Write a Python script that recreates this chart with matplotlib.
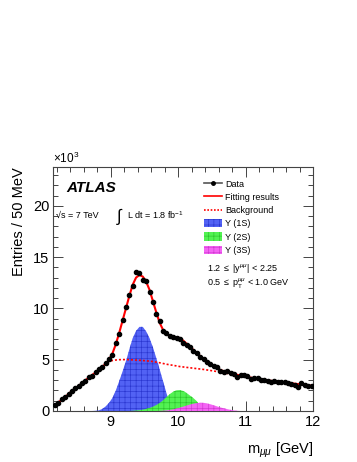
import numpy as np
import matplotlib
matplotlib.use("Agg")
import matplotlib.pyplot as plt
from matplotlib.lines import Line2D
from matplotlib.patches import Patch

plt.rcParams['font.family'] = ['Liberation Sans', 'DejaVu Sans']
plt.rcParams['mathtext.fontset'] = 'custom'
plt.rcParams['mathtext.rm'] = 'Liberation Sans'
plt.rcParams['mathtext.it'] = 'Liberation Sans:italic'
plt.rcParams['mathtext.fallback'] = 'stixsans'
plt.rcParams['hatch.linewidth'] = 0.45

# ---- data (in units of 10^3 entries / 50 MeV) ----
mass = [8.175 + 0.05 * i for i in range(77)]

data = [0.55, 0.8, 1.15, 1.4, 1.7, 1.9, 2.25, 2.45, 2.75, 2.95,
        3.3, 3.45, 3.8, 4.1, 4.25, 4.7, 5.1, 5.5, 6.6, 7.5,
        8.9, 10.1, 11.3, 12.2, 13.5, 13.4, 12.8, 12.7, 11.6, 10.6,
        9.5, 8.8, 7.8, 7.6, 7.3, 7.25, 7.1, 7.0, 6.65, 6.4,
        6.2, 5.85, 5.7, 5.3, 5.1, 4.8, 4.62, 4.4, 4.25, 3.9,
        3.8, 3.9, 3.72, 3.6, 3.35, 3.55, 3.5, 3.45, 3.15, 3.25,
        3.2, 3.05, 3.0, 2.95, 2.85, 2.95, 2.8, 2.85, 2.8, 2.7,
        2.6, 2.55, 2.37, 2.75, 2.55, 2.45, 2.45]

fit_total = [0.55, 0.85, 1.1, 1.35, 1.65, 1.95, 2.2, 2.45, 2.7, 3.0,
             3.25, 3.5, 3.75, 4.05, 4.3, 4.6, 5.0, 5.6, 6.5, 7.6,
             8.8, 10.0, 11.2, 12.3, 13.0, 13.25, 13.1, 12.6, 11.8, 10.7,
             9.6, 8.6, 7.9, 7.5, 7.3, 7.2, 7.2, 7.1, 6.85, 6.55,
             6.25, 5.95, 5.65, 5.35, 5.05, 4.8, 4.55, 4.33, 4.15, 4.0,
             3.88, 3.77, 3.68, 3.6, 3.52, 3.45, 3.38, 3.31, 3.25, 3.19,
             3.13, 3.08, 3.03, 2.98, 2.94, 2.9, 2.86, 2.82, 2.78, 2.74,
             2.7, 2.66, 2.62, 2.58, 2.54, 2.5, 2.46]

background = [0.53, 0.83, 1.08, 1.33, 1.63, 1.93, 2.18, 2.43, 2.68, 2.97,
              3.22, 3.47, 3.75, 4.1, 4.4, 4.65, 4.83, 4.92, 4.97, 5.0,
              5.01, 5.01, 5.0, 4.98, 4.96, 4.94, 4.92, 4.89, 4.86, 4.82,
              4.76, 4.7, 4.63, 4.56, 4.5, 4.45, 4.39, 4.33, 4.29, 4.25,
              4.21, 4.17, 4.13, 4.09, 4.05, 4.0, 3.95, 3.9, 3.84, 3.78,
              3.72, 3.66, 3.6, 3.54, 3.48, 3.42, 3.36, 3.29, 3.23, 3.17,
              3.11, 3.06, 3.01, 2.96, 2.92, 2.88, 2.84, 2.8, 2.76, 2.72,
              2.68, 2.64, 2.6, 2.56, 2.52, 2.48, 2.44]

ups1s = [0, 0, 0, 0, 0, 0, 0, 0, 0, 0,
         0, 0, 0.02, 0.06, 0.2, 0.45, 0.8, 1.27, 2.0, 2.9,
         3.85, 4.84, 6.0, 7.1, 7.8, 8.2, 8.2, 7.75, 7.1, 6.2,
         5.16, 4.05, 2.9, 1.75, 0.75, 0.1, 0, 0, 0, 0,
         0, 0, 0, 0, 0, 0, 0, 0, 0, 0,
         0, 0, 0, 0, 0, 0, 0, 0, 0, 0,
         0, 0, 0, 0, 0, 0, 0, 0, 0, 0,
         0, 0, 0, 0, 0, 0, 0]

ups2s = [0, 0, 0, 0, 0, 0, 0, 0, 0, 0,
         0, 0, 0, 0, 0, 0, 0, 0, 0, 0,
         0, 0, 0, 0.02, 0.05, 0.08, 0.13, 0.2, 0.3, 0.42,
         0.58, 0.78, 1.05, 1.35, 1.65, 1.88, 2.02, 2.04, 1.95, 1.75,
         1.5, 1.25, 0.95, 0.4, 0, 0, 0, 0, 0, 0,
         0, 0, 0, 0, 0, 0, 0, 0, 0, 0,
         0, 0, 0, 0, 0, 0, 0, 0, 0, 0,
         0, 0, 0, 0, 0, 0, 0]

ups3s = [0, 0, 0, 0, 0, 0, 0, 0, 0, 0,
         0, 0, 0, 0, 0, 0, 0, 0, 0, 0,
         0, 0, 0, 0, 0, 0, 0, 0, 0, 0,
         0, 0.01, 0.03, 0.06, 0.1, 0.16, 0.24, 0.33, 0.43, 0.53,
         0.63, 0.71, 0.77, 0.8, 0.79, 0.74, 0.66, 0.56, 0.45, 0.35,
         0.26, 0.18, 0.11, 0.06, 0.02, 0, 0, 0, 0, 0,
         0, 0, 0, 0, 0, 0, 0, 0, 0, 0,
         0, 0, 0, 0, 0, 0, 0]

data_err = [0.08] * 77

x = np.array(mass)

fig = plt.figure(figsize=(3.57, 4.62), dpi=100)
ax = fig.add_axes([0.1494, 0.1104, 0.7282, 0.5286])

blue_face, blue_edge = '#5262f4', '#2a36d0'
green_face, green_edge = '#52f252', '#2cc42c'
mag_face, mag_edge = '#f464f4', '#d038d0'

ax.fill_between(x, 0, ups1s, facecolor=blue_face, edgecolor=blue_edge,
                hatch='+++', linewidth=0, zorder=2)
ax.fill_between(x, 0, ups2s, facecolor=green_face, edgecolor=green_edge,
                hatch='+++', linewidth=0, zorder=3)
ax.fill_between(x, 0, ups3s, facecolor=mag_face, edgecolor=mag_edge,
                hatch='+++', linewidth=0, zorder=4)

ax.plot(x, background, color='red', linestyle=(0, (1.2, 1.2)), lw=1.2, zorder=5)
ax.plot(x, fit_total, color='red', lw=1.5, zorder=6)

ax.errorbar(x, data, yerr=data_err, xerr=0.025, fmt='o', color='black',
            markersize=3.0, elinewidth=0.6, capsize=0, zorder=7)

ax.set_xlim(8.15, 12.0)
ax.set_ylim(0, 23.8)
ax.set_xticks([9, 10, 11, 12])
ax.set_xticks(np.arange(8.2, 12.01, 0.2), minor=True)
ax.set_yticks([0, 5, 10, 15, 20])
ax.set_yticks(np.arange(0, 23.8, 1), minor=True)
ax.tick_params(which='both', direction='in', top=True, right=True,
               labelsize=10.5, color='#444444', pad=3)
ax.tick_params(which='major', length=7, width=0.7)
ax.tick_params(which='minor', length=3.5, width=0.7)
for s in ax.spines.values():
    s.set_color('#444444')
    s.set_linewidth(0.8)

ax.set_ylabel('Entries / 50 MeV', fontsize=10.5, loc='top', labelpad=5)
ax.set_xlabel(r'm$_{\mu\mu}$ [GeV]', fontsize=10.5, loc='right', labelpad=8)
ax.text(0.0, 1.005, r'$\times$10$^{3}$', transform=ax.transAxes,
        fontsize=8.5, ha='left', va='bottom')

ax.text(0.05, 0.915, 'ATLAS', transform=ax.transAxes, fontsize=11,
        fontweight='bold', fontstyle='italic', ha='left', va='center')
ax.text(0.012, 0.80, '√s = 7 TeV', transform=ax.transAxes,
        fontsize=6.5, ha='left', va='center')
ax.text(0.24, 0.795, r'$\int$', transform=ax.transAxes,
        fontsize=12, ha='left', va='center')
ax.text(0.285, 0.80, r'L dt = 1.8 fb$^{-1}$', transform=ax.transAxes,
        fontsize=6.5, ha='left', va='center')

handles = [
    Line2D([0], [0], color='#555555', lw=1.2, marker='o',
           markerfacecolor='black', markeredgecolor='black', markersize=2.5),
    Line2D([0], [0], color='red', lw=1.2),
    Line2D([0], [0], color='red', lw=1.2, linestyle=(0, (1, 1))),
    Patch(facecolor=blue_face, edgecolor=blue_edge, hatch='+++', linewidth=0),
    Patch(facecolor=green_face, edgecolor=green_edge, hatch='+++', linewidth=0),
    Patch(facecolor=mag_face, edgecolor=mag_edge, hatch='+++', linewidth=0),
]
labels = ['Data', 'Fitting results', 'Background',
          'Υ (1S)', 'Υ (2S)', 'Υ (3S)']
ax.legend(handles, labels, loc='upper left', bbox_to_anchor=(0.565, 0.962),
          frameon=False, fontsize=6.5, handlelength=2.0, handleheight=1.0,
          labelspacing=0.45, handletextpad=0.35, borderaxespad=0, numpoints=1)

ax.text(0.59, 0.585, r'1.2 $\leq$ |y$^{\mu\mu}$| < 2.25', transform=ax.transAxes,
        fontsize=6.5, ha='left', va='center')
ax.text(0.59, 0.52, r'0.5 $\leq$ p$_{\mathrm{T}}^{\mu\mu}$ < 1.0 GeV',
        transform=ax.transAxes, fontsize=6.5, ha='left', va='center')

fig.savefig('out.png', dpi=100)
